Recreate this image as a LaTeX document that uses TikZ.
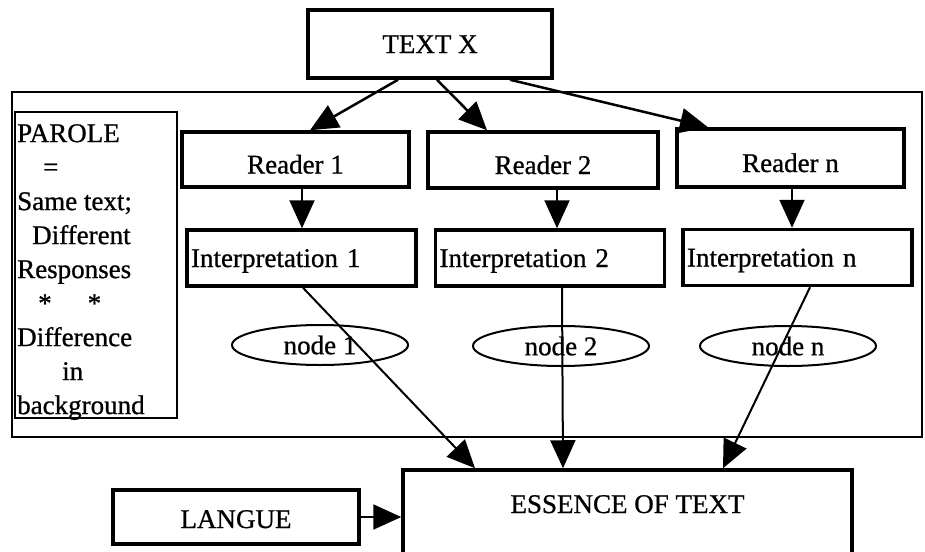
\documentclass[tikz,border=0pt]{standalone}
\usepackage{fontspec}
\setmainfont{Liberation Serif}[FakeBold=0.8]
\usetikzlibrary{arrows.meta,positioning,shapes.geometric}

\begin{document}
\begin{tikzpicture}[x=1pt,y=-1pt,-,
                    font=\fontsize{27}{34}\selectfont,
                    main box/.style={rectangle,draw,line width=3.5pt,inner sep=4pt,text height=18pt,text depth=0pt},
                    reader box/.style={main box,text height=28pt},
                    interp box/.style={main box,minimum height=56pt,text width=221pt,align=left},
                    frame box/.style={rectangle,draw,line width=2.5pt},
                    read node/.style={ellipse,draw,line width=2pt,minimum width=176pt,minimum height=40pt,inner sep=0pt},
                    flow/.style={line width=2.5pt,-{Triangle[length=28pt,width=25pt]}}]

  \useasboundingbox (0,0) rectangle (925,551);

  \node[frame box,minimum width=910pt,minimum height=345pt] (frame) at (467,264.5) {};
  \node[frame box,line width=2pt,minimum width=162pt,minimum height=306pt] (parole) at (96,265) {};
  \node[anchor=north west,align=left,inner sep=0pt] (parole text) at (17,124)
    {PAROLE\\ \hspace*{26pt}=\\ Same text;\\ \hspace*{15pt}Different\\ Responses\\
     \hspace*{21pt}*\hspace{36pt}*\\ Difference\\ \hspace*{45pt}in\\ background};

  \node[main box,minimum width=244pt,minimum height=68pt] (textx) at (430,44) {TEXT X};

  \node[reader box,minimum width=227pt,minimum height=55pt] (reader1) at (295.5,159.5) {Reader 1};
  \node[reader box,minimum width=230pt,minimum height=56pt] (reader2) at (543,160) {Reader 2};
  \node[reader box,minimum width=227pt,minimum height=58pt] (readern) at (790.5,158) {Reader n};

  \node[interp box] (interp1) at (301.5,258) {Interpretation 1};
  \node[interp box] (interp2) at (550,258) {Interpretation 2};
  \node[interp box] (interpn) at (797.5,257.5) {Interpretation n};

  \node[read node] (node1) at (320,345) {node 1};
  \node[read node] (node2) at (561,346) {node 2};
  \node[read node] (noden) at (788,346) {node n};

  \node[main box,minimum width=449pt,minimum height=90pt] (essence) at (627.5,515) {\raisebox{11pt}{ESSENCE OF TEXT}};
  \node[main box,text height=22pt,minimum width=246pt,minimum height=54pt] (langue) at (236,517) {LANGUE};

  \draw[flow] ([xshift=-32pt]textx.south) -- ([xshift=14.5pt]reader1.north);
  \draw[flow] ([xshift=7pt]textx.south) -- ([xshift=-56pt]reader2.north);
  \draw[flow] ([xshift=80pt]textx.south) -- ([xshift=-82.5pt]readern.north);

  \draw[flow,line width=2pt] ([xshift=6.5pt]reader1.south) -- ([xshift=6.5pt]reader1.south |- interp1.north);
  \draw[flow,line width=2pt] ([xshift=14pt]reader2.south) -- ([xshift=14pt]reader2.south |- interp2.north);
  \draw[flow,line width=2pt] ([xshift=1.5pt]readern.south) -- ([xshift=1.5pt]readern.south |- interpn.north);

  \draw[flow,line width=2pt] ([xshift=1.5pt]interp1.south) -- ([xshift=-152.5pt]essence.north);
  \draw[flow,line width=2pt] ([xshift=12pt]interp2.south) -- ([xshift=-64.5pt]essence.north);
  \draw[flow,line width=2pt] ([xshift=12.5pt]interpn.south) -- ([xshift=95.5pt]essence.north);
  \draw[flow,line width=2pt] (langue.east) -- (langue.east -| essence.west);

\end{tikzpicture}
\end{document}
